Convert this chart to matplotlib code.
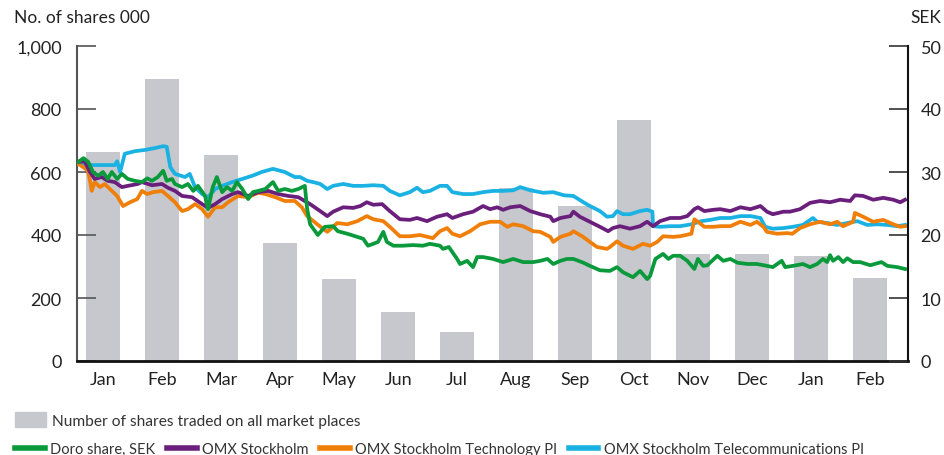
import numpy as np
import matplotlib
matplotlib.use("Agg")
import matplotlib.pyplot as plt
from matplotlib.lines import Line2D
from matplotlib.patches import Patch

plt.rcParams['font.family'] = ['Lato', 'DejaVu Sans']

# ============================================================
# DATA
# ============================================================
months = ['Jan', 'Feb', 'Mar', 'Apr', 'May', 'Jun', 'Jul',
          'Aug', 'Sep', 'Oct', 'Nov', 'Dec', 'Jan', 'Feb']
# number of shares traded per month, thousands
shares = [665, 895, 655, 375, 260, 155, 92, 548, 492, 765, 340, 340, 333, 263]

# time in months from start of first January, price/index in SEK
doro_t = [0.08, 0.17, 0.25, 0.33, 0.42, 0.50, 0.58, 0.65, 0.74, 0.82, 0.92, 1.04, 1.16, 1.25, 1.33,
          1.43, 1.52, 1.58, 1.67, 1.72, 1.84, 1.94, 2.03, 2.11, 2.23, 2.28, 2.36, 2.43, 2.52, 2.60,
          2.69, 2.77, 2.86, 2.96, 3.04, 3.13, 3.25, 3.38, 3.47, 3.58, 3.70, 3.81, 3.92, 3.96, 4.01,
          4.14, 4.26, 4.40, 4.48, 4.64, 4.81, 4.91, 4.99, 5.08, 5.16, 5.25, 5.31, 5.42, 5.58, 5.75,
          5.92, 6.04, 6.21, 6.26, 6.36, 6.50, 6.55, 6.67, 6.77, 6.84, 6.94, 7.11, 7.28, 7.45, 7.62,
          7.79, 7.91, 8.03, 8.13, 8.25, 8.36, 8.47, 8.64, 8.75, 8.92, 9.09, 9.21, 9.31, 9.48, 9.60,
          9.72, 9.77, 9.86, 9.91, 9.99, 10.08, 10.16, 10.28, 10.40, 10.52, 10.58, 10.67, 10.74, 10.91,
          11.01, 11.13, 11.25, 11.42, 11.58, 11.75, 11.85, 12.00, 12.06, 12.19, 12.36, 12.48, 12.60,
          12.70, 12.77, 12.82, 12.87, 12.96, 13.04, 13.11, 13.21, 13.33, 13.50, 13.69, 13.79, 13.96, 14.09]
doro_sek = [31.6, 32.2, 31.6, 30.0, 29.4, 30.0, 28.9, 30.0, 28.9, 29.7, 28.9, 28.6, 28.4, 29.0, 28.6,
            29.2, 30.2, 28.6, 28.9, 28.1, 27.6, 28.1, 27.0, 27.8, 26.2, 24.1, 27.6, 29.2, 26.8, 27.6,
            27.0, 28.4, 27.3, 25.7, 26.8, 27.0, 27.3, 28.4, 27.0, 27.3, 27.0, 27.3, 27.8, 24.1, 21.7,
            20.0, 21.3, 21.4, 20.6, 20.2, 19.7, 19.4, 18.3, 18.6, 18.9, 20.5, 18.9, 18.3, 18.3, 18.4,
            18.3, 18.6, 18.3, 17.8, 18.1, 16.2, 15.4, 15.9, 14.9, 16.5, 16.5, 16.2, 15.7, 16.2, 15.7,
            15.7, 15.9, 16.2, 15.4, 15.9, 16.2, 16.2, 15.6, 15.1, 14.4, 14.3, 14.9, 14.1, 13.3, 14.3,
            13.0, 13.5, 16.2, 16.5, 17.0, 16.2, 16.7, 16.7, 15.9, 14.6, 16.2, 15.1, 15.2, 16.7,
            15.9, 16.2, 15.6, 15.4, 15.4, 15.1, 14.9, 15.9, 14.9, 15.1, 15.4, 14.9, 15.4,
            16.2, 15.7, 16.8, 15.9, 16.5, 15.7, 16.3, 15.7, 15.7, 15.2, 15.7, 15.1, 14.9, 14.6]

omx_t = [0.08, 0.19, 0.28, 0.36, 0.48, 0.58, 0.70, 0.82, 0.92, 1.09, 1.16, 1.33, 1.50, 1.60, 1.72,
         1.84, 2.01, 2.18, 2.28, 2.40, 2.52, 2.69, 2.79, 2.96, 3.13, 3.30, 3.47, 3.64, 3.81, 4.01,
         4.18, 4.30, 4.40, 4.57, 4.74, 4.86, 4.97, 5.08, 5.23, 5.36, 5.53, 5.70, 5.82, 5.99, 6.16,
         6.33, 6.42, 6.60, 6.77, 6.94, 7.06, 7.18, 7.28, 7.40, 7.57, 7.74, 7.91, 8.08, 8.13, 8.25,
         8.42, 8.47, 8.58, 8.75, 8.92, 9.06, 9.14, 9.26, 9.43, 9.60, 9.72, 9.82, 9.94, 10.11, 10.28,
         10.40, 10.52, 10.58, 10.69, 10.84, 10.96, 11.13, 11.30, 11.47, 11.64, 11.75, 11.85, 12.03,
         12.14, 12.31, 12.48, 12.65, 12.82, 12.99, 13.16, 13.24, 13.38, 13.55, 13.72, 13.89, 14.01, 14.09]
omx_sek = [31.6, 31.7, 30.0, 28.9, 29.2, 28.6, 28.4, 27.6, 27.8, 28.1, 28.4, 27.9, 28.1, 27.5, 27.0,
           26.2, 26.0, 24.9, 24.3, 24.9, 25.7, 26.5, 26.8, 26.2, 26.8, 27.0, 26.5, 26.2, 26.0, 24.9,
           23.8, 23.0, 23.7, 24.4, 24.3, 24.6, 25.2, 24.8, 24.9, 23.8, 22.5, 22.4, 22.7, 22.2, 22.9,
           23.3, 22.7, 23.3, 23.7, 24.6, 24.1, 24.4, 24.0, 24.4, 24.6, 23.8, 23.3, 22.9, 22.2, 22.7,
           23.0, 23.7, 22.9, 22.1, 21.3, 20.6, 21.1, 21.4, 21.0, 21.4, 22.1, 21.4, 22.2, 22.7, 22.7,
           23.0, 24.1, 24.4, 23.8, 24.0, 24.1, 23.8, 24.4, 24.1, 24.6, 23.7, 23.3, 23.7,
           23.7, 24.1, 25.1, 25.4, 25.2, 25.6, 25.4, 26.3, 26.2, 25.6, 25.9, 25.6, 25.2, 25.6]

tech_t = [0.08, 0.16, 0.25, 0.31, 0.36, 0.45, 0.53, 0.65, 0.74, 0.84, 0.96, 1.08, 1.16, 1.25, 1.35,
          1.50, 1.60, 1.72, 1.84, 1.94, 2.06, 2.18, 2.28, 2.40, 2.52, 2.62, 2.79, 2.96, 3.13, 3.25,
          3.42, 3.58, 3.75, 3.87, 3.96, 4.13, 4.30, 4.47, 4.64, 4.81, 4.97, 5.08, 5.25, 5.36, 5.53,
          5.70, 5.87, 6.09, 6.21, 6.33, 6.42, 6.55, 6.72, 6.89, 7.06, 7.23, 7.35, 7.45, 7.62, 7.79,
          7.91, 8.08, 8.13, 8.25, 8.42, 8.47, 8.62, 8.75, 8.87, 9.04, 9.09, 9.21, 9.31, 9.48, 9.65,
          9.77, 9.89, 9.99, 10.16, 10.28, 10.47, 10.52, 10.58, 10.69, 10.84, 10.96, 11.13, 11.30,
          11.47, 11.58, 11.69, 11.75, 11.92, 12.09, 12.18, 12.31, 12.48, 12.65, 12.82, 12.94, 13.04,
          13.21, 13.24, 13.38, 13.55, 13.72, 13.89, 14.01, 14.09]
tech_sek = [31.3, 30.8, 30.2, 27.0, 28.4, 27.6, 28.1, 27.0, 26.2, 24.6, 25.2, 25.7, 27.0, 26.5, 26.8,
            27.0, 26.2, 25.2, 23.8, 24.1, 24.9, 24.1, 22.9, 24.4, 24.4, 25.2, 26.2, 26.0, 26.7, 26.5,
            26.0, 25.4, 25.4, 24.4, 23.0, 21.7, 20.5, 21.9, 21.7, 22.2, 23.0, 22.5, 22.2, 21.3, 19.8,
            19.8, 20.0, 19.5, 20.6, 21.1, 20.2, 19.8, 20.6, 21.7, 22.1, 22.1, 21.3, 21.7, 21.4, 20.6,
            20.5, 19.7, 18.9, 19.7, 20.2, 20.6, 19.8, 18.9, 18.1, 17.8, 18.1, 19.0, 18.3, 17.8, 18.6,
            18.3, 18.9, 19.8, 19.7, 19.8, 20.2, 22.5, 22.1, 21.3, 21.3, 21.4, 21.4, 22.1,
            21.6, 22.1, 21.3, 20.5, 20.2, 20.3, 20.2, 21.1, 21.7, 22.1, 21.7, 22.1, 21.4,
            22.1, 23.5, 22.9, 22.1, 22.4, 21.7, 21.3, 21.4]

tele_t = [0.08, 0.28, 0.70, 0.74, 0.79, 0.87, 1.04, 1.21, 1.38, 1.52, 1.58, 1.64, 1.72, 1.89, 1.97,
          2.06, 2.18, 2.28, 2.40, 2.52, 2.69, 2.86, 3.03, 3.19, 3.38, 3.58, 3.75, 3.84, 3.96, 4.06,
          4.18, 4.30, 4.40, 4.57, 4.74, 4.91, 5.08, 5.25, 5.36, 5.53, 5.70, 5.82, 5.92, 6.04, 6.21,
          6.33, 6.42, 6.60, 6.77, 6.94, 7.11, 7.28, 7.45, 7.57, 7.74, 7.96, 8.13, 8.31, 8.47, 8.64,
          8.75, 8.92, 9.04, 9.14, 9.21, 9.31, 9.43, 9.60, 9.72, 9.81, 9.82, 9.94, 10.11, 10.28, 10.47,
          10.64, 10.79, 10.96, 11.13, 11.30, 11.47, 11.64, 11.72, 11.85, 12.03, 12.19, 12.36, 12.53,
          12.60, 12.77, 12.94, 13.11, 13.28, 13.45, 13.62, 13.79, 13.96, 14.09]
tele_sek = [31.3, 31.1, 31.1, 31.7, 30.0, 32.9, 33.3, 33.5, 33.8, 34.1, 34.0, 30.8, 29.7, 29.2, 29.7,
            27.6, 26.5, 26.0, 27.3, 27.8, 28.4, 28.9, 29.4, 30.0, 30.5, 30.0, 29.2, 29.2, 28.6, 28.4,
            28.1, 27.3, 27.8, 28.1, 27.8, 27.8, 27.9, 27.8, 27.0, 26.3, 26.8, 27.5, 26.8, 27.0, 27.8,
            27.8, 26.8, 26.5, 26.5, 26.8, 27.0, 27.0, 27.1, 27.6, 27.1, 26.7, 26.8, 26.3, 26.2, 25.2,
            24.6, 23.8, 22.9, 23.0, 23.8, 23.3, 23.3, 23.8, 24.0, 23.7, 21.4, 21.3, 21.4, 21.4, 21.7,
            22.2, 22.4, 22.7, 22.7, 23.0, 23.0, 22.7, 21.3, 21.0, 21.1, 21.3, 21.6, 22.7,
            22.1, 21.9, 21.6, 21.9, 22.2, 21.6, 21.7, 21.6, 21.4, 21.6]

# ============================================================
# FIGURE
# ============================================================
GREEN = '#0a9a3c'
PURPLE = '#6b1f7c'
ORANGE = '#f07f09'
CYAN = '#19b2e3'
BAR = '#c6c8ce'
LW = 2.7

fig = plt.figure(figsize=(9.44, 4.56), dpi=100)
ax = fig.add_axes([77 / 944, 94 / 456, 831 / 944, 315 / 456])
ax2 = ax.twinx()

x = np.arange(len(months)) + 0.5
bars = ax.bar(x, shares, width=0.58, color=BAR, zorder=1)

ax2.plot(tele_t, tele_sek, color=CYAN, lw=LW)
ax2.plot(tech_t, tech_sek, color=ORANGE, lw=LW)
ax2.plot(omx_t, omx_sek, color=PURPLE, lw=LW)
ax2.plot(doro_t, doro_sek, color=GREEN, lw=LW)

ax.set_xlim(0.06, 14.14)
ax.set_ylim(0, 1000)
ax2.set_ylim(0, 50)
ax.set_yticks(range(0, 1001, 200))
ax.set_yticklabels(['0', '200', '400', '600', '800', '1,000'])
ax2.set_yticks(range(0, 51, 10))
ax.set_xticks(x)
ax.set_xticklabels(months)

for a in (ax, ax2):
    a.spines['top'].set_visible(False)
ax.spines['right'].set_visible(False)
ax.spines['left'].set_color('#555555')
ax.spines['left'].set_linewidth(1.5)
ax.spines['bottom'].set_color('#111111')
ax.spines['bottom'].set_linewidth(2)
ax2.spines['left'].set_visible(False)
ax2.spines['bottom'].set_visible(False)
ax2.spines['right'].set_color('#111111')
ax2.spines['right'].set_linewidth(1.5)

ax.tick_params(axis='y', direction='in', length=14, width=1.2, color='#555555',
               pad=11, labelsize=13, labelcolor='#222222')
ax2.tick_params(axis='y', direction='in', length=14, width=1.2, color='#333333',
                pad=9, labelsize=13, labelcolor='#222222')
ax.tick_params(axis='x', length=0, pad=7, labelsize=13, labelcolor='#222222')

fig.text(14 / 944, 1 - 18 / 456, 'No. of shares 000', fontsize=12.5, color='#222222',
         ha='left', va='center')
fig.text(941 / 944, 1 - 18 / 456, 'SEK', fontsize=12.5, color='#222222',
         ha='right', va='center')

# legends
fig.legend(handles=[Patch(color=BAR, label='Number of shares traded on all market places')],
           loc='center left', bbox_to_anchor=(9 / 944, 1 - 421 / 456), frameon=False,
           borderaxespad=0, fontsize=11.2, handlelength=2.0, handleheight=1.05,
           handletextpad=0.35, labelcolor='#333333')
line_handles = [Line2D([], [], color=GREEN, lw=4, label='Doro share, SEK'),
                Line2D([], [], color=PURPLE, lw=4, label='OMX Stockholm'),
                Line2D([], [], color=ORANGE, lw=4, label='OMX Stockholm Technology PI'),
                Line2D([], [], color=CYAN, lw=4, label='OMX Stockholm Telecommunications PI')]
fig.legend(handles=line_handles, loc='center left', bbox_to_anchor=(9 / 944, 1 - 450 / 456),
           ncol=4, frameon=False, borderaxespad=0, fontsize=10.5, handlelength=2.05,
           handletextpad=0.35, columnspacing=0.8, labelcolor='#333333')

fig.savefig('out.png', dpi=100)
